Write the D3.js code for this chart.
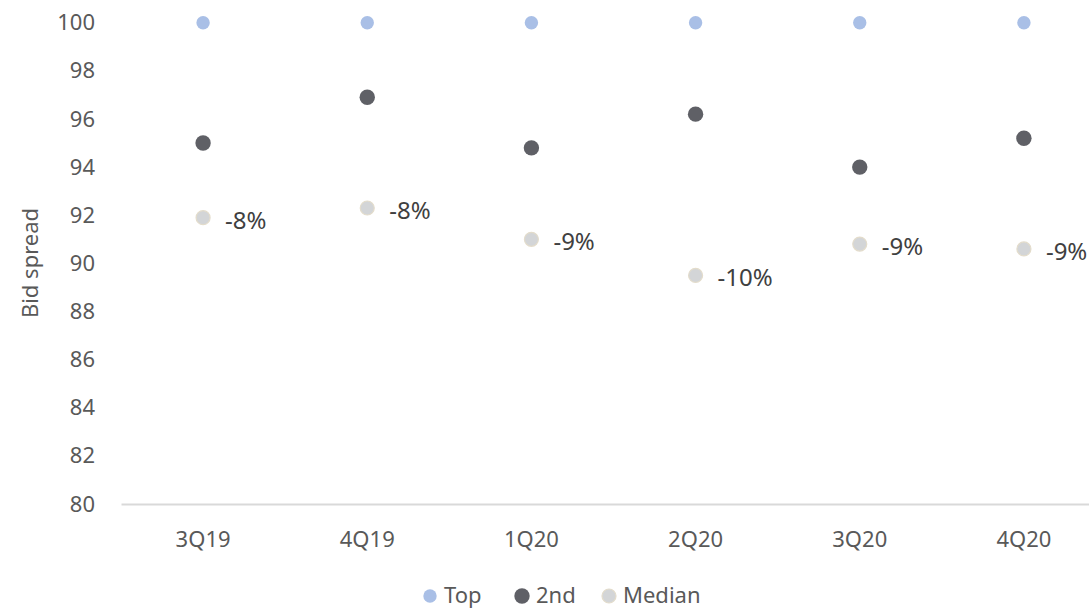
<!DOCTYPE html>
<html>
<head>
<meta charset="utf-8">
<script src="https://cdn.jsdelivr.net/npm/d3@7"></script>
<style>
  html, body { margin: 0; padding: 0; background: #fff; }
  svg { display: block; font-family: "Noto Sans", sans-serif; }
</style>
</head>
<body>
<svg id="chart" width="1089" height="608"></svg>
<script>
const categories = ["3Q19", "4Q19", "1Q20", "2Q20", "3Q20", "4Q20"];
const topValues = [100, 100, 100, 100, 100, 100];
const secondValues = [95.0, 96.9, 94.8, 96.2, 94.0, 95.2];
const medianValues = [91.9, 92.3, 91.0, 89.5, 90.8, 90.6];
const medianLabels = ["-8%", "-8%", "-9%", "-10%", "-9%", "-9%"];
const yTicks = [80, 82, 84, 86, 88, 90, 92, 94, 96, 98, 100];
const seriesNames = ["Top", "2nd", "Median"];

const svg = d3.select("#chart");
const x = d3.scaleBand().domain(categories).range([121, 1106]).padding(0);
const y = d3.scaleLinear().domain([80, 100]).range([504, 22.7]);
const cx = c => x(c) + x.bandwidth() / 2;

// y axis labels (no line)
const yAxis = d3.axisLeft(y).tickValues(yTicks).tickSize(0).tickPadding(0);
const yg = svg.append("g").attr("transform", "translate(95,0)").call(yAxis);
yg.select(".domain").remove();
yg.selectAll("text").attr("font-size", 22).attr("fill", "#595959")
  .attr("font-family", "Noto Sans, sans-serif");

// x axis
const xAxis = d3.axisBottom(x).tickSize(0).tickPadding(0);
const xg = svg.append("g").attr("transform", "translate(0,504)").call(xAxis);
xg.select(".domain").attr("stroke", "#d9d9d9").attr("stroke-width", 2);
xg.selectAll("text").attr("font-size", 22).attr("fill", "#595959")
  .attr("font-family", "Noto Sans, sans-serif").attr("dy", "1.95em");

// axis title
svg.append("text")
  .attr("transform", `translate(38,263) rotate(-90)`)
  .attr("text-anchor", "middle")
  .attr("font-size", 22).attr("fill", "#595959")
  .text("Bid spread");

const styles = {
  Top: { fill: "#a9bfe6", stroke: "none", r: 6.7 },
  "2nd": { fill: "#5f6066", stroke: "none", r: 7.7 },
  Median: { fill: "#d3d5d7", stroke: "#e3dccb", r: 7 }
};
const seriesData = [
  { name: "Top", values: topValues },
  { name: "2nd", values: secondValues },
  { name: "Median", values: medianValues }
];

seriesData.forEach(s => {
  const st = styles[s.name];
  svg.append("g").selectAll("circle").data(s.values).join("circle")
    .attr("cx", (d, i) => cx(categories[i]))
    .attr("cy", d => y(d))
    .attr("r", st.r)
    .attr("fill", st.fill)
    .attr("stroke", st.stroke)
    .attr("stroke-width", 1.2);
});

// median labels
svg.append("g").selectAll("text").data(medianValues).join("text")
  .attr("x", (d, i) => cx(categories[i]) + 22)
  .attr("y", d => y(d) + 11)
  .attr("font-size", 24)
  .attr("fill", "#404040")
  .text((d, i) => medianLabels[i]);

// legend
const legendItems = [
  { name: "Top", cx: 430, tx: 444 },
  { name: "2nd", cx: 522, tx: 536 },
  { name: "Median", cx: 609, tx: 623 }
];
const lg = svg.append("g");
legendItems.forEach(it => {
  const st = styles[it.name];
  lg.append("circle").attr("cx", it.cx).attr("cy", 596).attr("r", st.r)
    .attr("fill", st.fill).attr("stroke", st.stroke).attr("stroke-width", 1.2);
  lg.append("text").attr("x", it.tx).attr("y", 603)
    .attr("font-size", 22).attr("fill", "#595959").text(it.name);
});
</script>
</body>
</html>
